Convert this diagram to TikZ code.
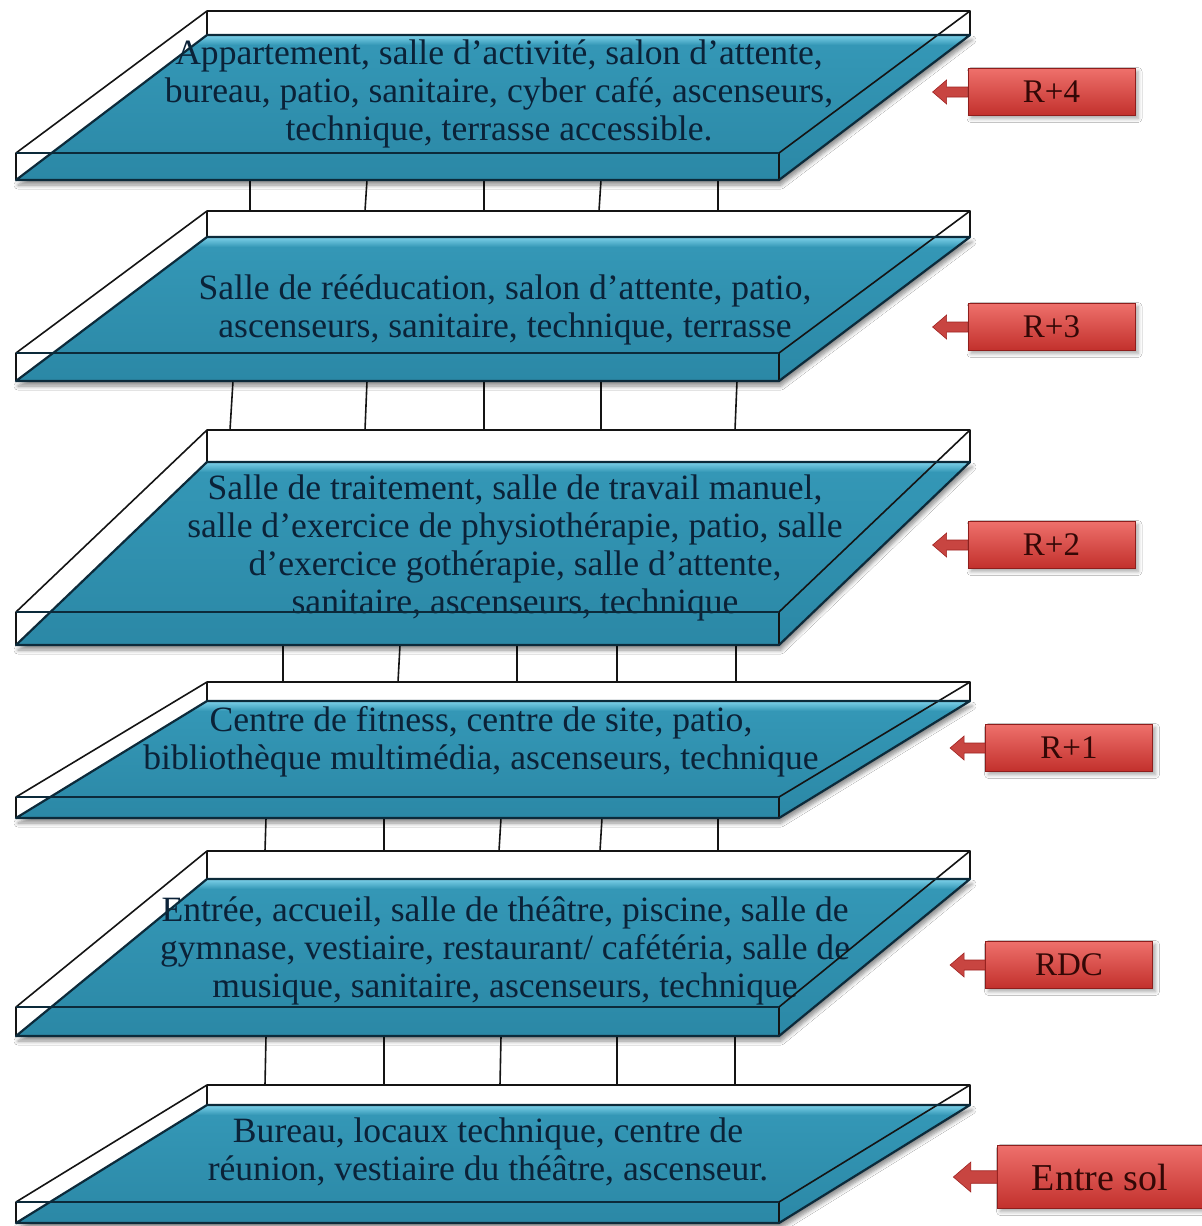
\documentclass[tikz,border=0pt]{standalone}
\usepackage{fontspec}
\setmainfont{Liberation Serif}
\usetikzlibrary{shadows.blur}

\definecolor{slabbody}{HTML}{2B88A6}
\definecolor{slabupper}{HTML}{3497B6}
\definecolor{slabhi}{HTML}{7ED2EA}
\definecolor{slabtext}{HTML}{0B2238}
\definecolor{edgecol}{HTML}{141414}
\definecolor{slabline}{HTML}{0C2A3A}
\definecolor{tagtop}{HTML}{EE706B}
\definecolor{tagbot}{HTML}{C2302C}
\definecolor{tagedge}{HTML}{8E1E1C}
\definecolor{tagtext}{HTML}{330806}

% one floor slab: back-top y, back-bottom y, front-top y, front-bottom y
\newcommand{\floorslab}[4]{%
  \path[fill=slabbody,
        blur shadow={shadow xshift=1pt,shadow yshift=-2.5pt,shadow blur radius=2pt,shadow blur steps=6,shadow opacity=45}]
    (207,#2) -- (970,#2) -- (779,#4) -- (16,#4) -- cycle;
  \begin{scope}
    \clip (207,#2) -- (970,#2) -- (779,#4) -- (16,#4) -- cycle;
    \shade[top color=slabupper,bottom color=slabbody] (0,{#2+10}) rectangle (1000,#4);
    \shade[top color=slabhi,bottom color=slabupper] (0,#2) rectangle (1000,{#2+10});
  \end{scope}
}
\newcommand{\slabedges}[4]{%
  \draw[edge] (207,#1) -- (970,#1) -- (779,#3) -- (16,#3) -- cycle;
  \draw[edge] (207,#1) -- (207,#2) (970,#1) -- (970,#2) (779,#3) -- (779,#4) (16,#3) -- (16,#4);
  \draw[faceedge] (207,#2) -- (970,#2) -- (779,#4) -- (16,#4) -- cycle;
  \draw[faceedge] (16,#3) -- (779,#3);
}
% left-pointing block arrow leaving a tag: tag name, scale
\newcommand{\tagpointer}[2]{%
  \begin{scope}[shift={(#1.west)},scale=#2]
    \filldraw[tagarrow] (0,-5) -- (-21,-5) -- (-21,-12) -- (-35,0) -- (-21,12) -- (-21,5) -- (0,5) -- cycle;
  \end{scope}
}

\begin{document}
\begin{tikzpicture}[x=0.5pt,y=-0.5pt,
  edge/.style={draw=edgecol,line width=0.8pt,line join=round},
  faceedge/.style={draw=slabline,line width=1.1pt,line join=round},
  post/.style={draw=edgecol,line width=0.8pt},
  slabtxt/.style={text=slabtext,align=center,inner sep=0pt,font=\fontsize{17.8}{18.9}\selectfont},
  floortag/.style={draw=tagedge,line width=0.4pt,top color=tagtop,bottom color=tagbot,
    text=tagtext,font=\fontsize{16.5}{18}\selectfont,minimum width=83.5pt,minimum height=23.5pt,inner sep=0pt,
    blur shadow={shadow xshift=1.5pt,shadow yshift=-1.5pt,shadow blur radius=2pt,shadow blur steps=5,shadow opacity=35}},
  tagarrow/.style={fill=tagbot!90!white,draw=tagedge!70!tagbot,line width=0.3pt}
]
\useasboundingbox (0,0) rectangle (1202,1226);
\fill[white] (0,0) rectangle (1202,1226);

% posts between the floors
\draw[post] (250,180) -- (250,211) (367,180) -- (365,211) (484,180) -- (484,211) (601,180) -- (599,211) (718,180) -- (718,211);
\draw[post] (233,381) -- (230,430) (367,381) -- (365,430) (484,381) -- (484,430) (601,381) -- (601,430) (737,381) -- (735,430);
\draw[post] (283,645) -- (283,682) (400,645) -- (398,682) (517,645) -- (517,682) (617,645) -- (617,682) (736,645) -- (736,682);
\draw[post] (266,818) -- (265,851) (384,818) -- (384,851) (501,818) -- (499,851) (602,818) -- (600,851) (718,818) -- (718,851);
\draw[post] (266,1036) -- (265,1085) (384,1036) -- (384,1085) (501,1036) -- (500,1085) (617,1036) -- (617,1085) (735,1036) -- (735,1085);

% R+4
\floorslab{11}{35}{153}{180}
\node[slabtxt] (f4) at (499,94) {Appartement, salle d’activité, salon d’attente,\\bureau, patio, sanitaire, cyber café, ascenseurs,\\technique, terrasse accessible.};
\slabedges{11}{35}{153}{180}

% R+3
\floorslab{211}{237}{353}{381}
\node[slabtxt] (f3) at (505,310) {Salle de rééducation, salon d’attente, patio,\\ascenseurs, sanitaire, technique, terrasse};
\slabedges{211}{237}{353}{381}

% R+2
\floorslab{430}{462}{612}{645}
\node[slabtxt] (f2) at (515,548) {Salle de traitement, salle de travail manuel,\\salle d’exercice de physiothérapie, patio, salle\\d’exercice gothérapie, salle d’attente,\\sanitaire, ascenseurs, technique};
\slabedges{430}{462}{612}{645}

% R+1
\floorslab{682}{701}{797}{818}
\node[slabtxt] (f1) at (481,742) {Centre de fitness, centre de site, patio,\\bibliothèque multimédia, ascenseurs, technique};
\slabedges{682}{701}{797}{818}

% RDC
\floorslab{851}{879}{1007}{1036}
\node[slabtxt] (f0) at (505,951) {Entrée, accueil, salle de théâtre, piscine, salle de\\gymnase, vestiaire, restaurant/ cafétéria, salle de\\musique, sanitaire, ascenseurs, technique};
\slabedges{851}{879}{1007}{1036}

% Entre sol
\floorslab{1085}{1105}{1202}{1223}
\node[slabtxt] (fe) at (488,1152) {Bureau, locaux technique, centre de\\réunion, vestiaire du théâtre, ascenseur.};
\slabedges{1085}{1105}{1202}{1223}

% floor tags
\node[floortag] (t4) at (1051.5,92) {R+4};
\node[floortag] (t3) at (1051.5,327) {R+3};
\node[floortag] (t2) at (1051.5,545) {R+2};
\node[floortag] (t1) at (1069,748) {R+1};
\node[floortag] (t0) at (1069,965) {RDC};
\node[floortag,minimum width=102.5pt,minimum height=31.5pt,font=\fontsize{19}{21}\selectfont] (te) at (1100,1177) {Entre sol};
\tagpointer{t4}{1}
\tagpointer{t3}{1}
\tagpointer{t2}{1}
\tagpointer{t1}{1}
\tagpointer{t0}{1}
\tagpointer{te}{1.25}
\end{tikzpicture}
\end{document}
